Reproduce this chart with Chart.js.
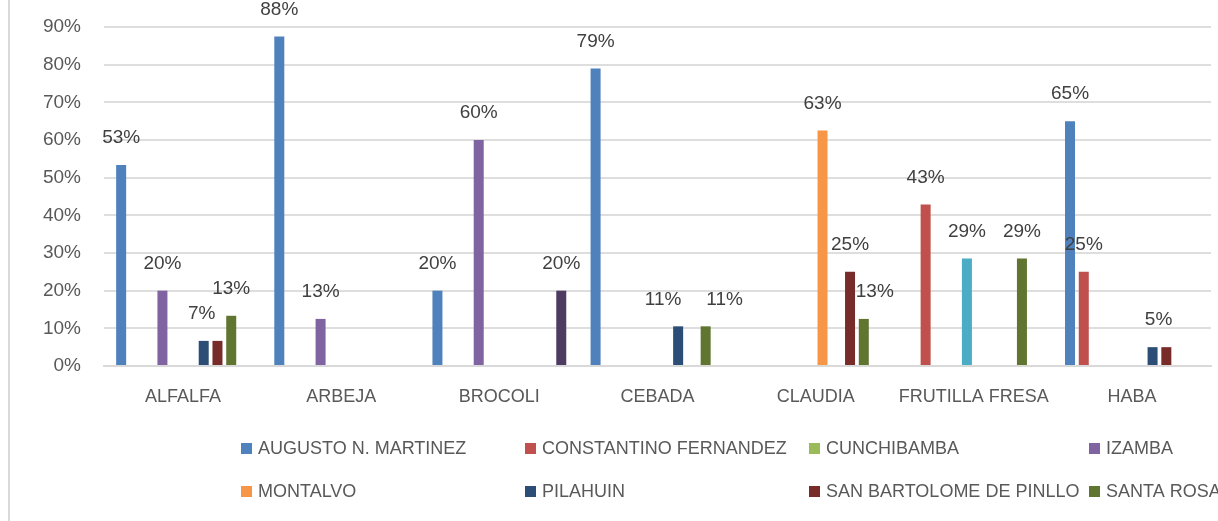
<!DOCTYPE html>
<html lang="es">
<head>
    <meta charset="UTF-8">
    <title>Cultivos por parroquia</title>
    <script src="https://cdn.jsdelivr.net/npm/chart.js"></script>
    <style>
        body {
            margin: 0;
            background: #ffffff;
        }
        #wrap {
            width: 1218px;
            height: 521px;
        }
    </style>
</head>
<body>

<div id="wrap"><canvas id="cultivosChart" width="1218" height="521"></canvas></div>

<script>
    // categorias (cultivos)
    const categories = ['ALFALFA', 'ARBEJA', 'BROCOLI', 'CEBADA', 'CLAUDIA', 'FRUTILLA FRESA', 'HABA'];

    // parroquias, en el orden de las series
    const seriesNames = [
        'AUGUSTO N. MARTINEZ', 'CONSTANTINO FERNANDEZ', 'CUNCHIBAMBA', 'IZAMBA', 'SERIE 5',
        'MONTALVO', 'PILAHUIN', 'SAN BARTOLOME DE PINLLO', 'SANTA ROSA', 'SERIE 10'
    ];

    // porcentajes por cultivo (null = sin dato)
    const augusto      = [53.33, 87.5, 20, 78.95, null, null, 65];
    const constantino  = [null, null, null, null, null, 42.86, 25];
    const cunchibamba  = [null, null, null, null, null, null, null];
    const izamba       = [20, 12.5, 60, null, null, null, null];
    const serie5       = [null, null, null, null, null, 28.57, null];
    const montalvo     = [null, null, null, null, 62.5, null, null];
    const pilahuin     = [6.67, null, null, 10.53, null, null, 5];
    const sanBartolome = [6.67, null, null, null, 25, null, 5];
    const santaRosa    = [13.33, null, null, 10.53, 12.5, 28.57, null];
    const serie10      = [null, null, 20, null, null, null, null];

    const seriesValues = [augusto, constantino, cunchibamba, izamba, serie5,
                          montalvo, pilahuin, sanBartolome, santaRosa, serie10];

    const yTicks = [0, 10, 20, 30, 40, 50, 60, 70, 80, 90];

    const colors = ['#4F81BD', '#C0504D', '#9BBB59', '#8064A2', '#4BACC6',
                    '#F79646', '#2C4D75', '#772C2A', '#5F7530', '#4D3B62'];

    // series que aparecen en la leyenda visible
    const legendShown = [0, 1, 2, 3, 5, 6, 7, 8];

    // etiquetas movidas a mano (dx) u ocultas (null), clave "serie:categoria"
    const labelTweaks = {
        '6:0': -2, '7:0': null,
        '6:3': -15, '8:3': 19,
        '8:4': 11,
        '6:6': 6, '7:6': null
    };

    const FONT = "'Liberation Sans', Arial, sans-serif";

    const valueLabels = {
        id: 'valueLabels',
        afterDatasetsDraw(chart) {
            const ctx = chart.ctx;
            ctx.save();
            ctx.font = '19px ' + FONT;
            ctx.fillStyle = '#404040';
            ctx.textAlign = 'center';
            ctx.textBaseline = 'middle';
            chart.data.datasets.forEach((ds, i) => {
                const meta = chart.getDatasetMeta(i);
                meta.data.forEach((bar, j) => {
                    const v = ds.data[j];
                    if (v == null) return;
                    const key = i + ':' + j;
                    let dx = 0;
                    if (key in labelTweaks) {
                        if (labelTweaks[key] === null) return;
                        dx = labelTweaks[key];
                    }
                    ctx.fillText(Math.round(v) + '%', bar.x + dx, bar.y - 27);
                });
            });
            ctx.restore();
        }
    };

    const gridLegend = {
        id: 'gridLegend',
        afterDraw(chart) {
            const ctx = chart.ctx;
            const cols = [241, 525, 809, 1089];
            const rows = [449, 492];
            ctx.save();
            // borde izquierdo del area del grafico
            ctx.strokeStyle = '#d9d9d9';
            ctx.lineWidth = 2;
            ctx.beginPath();
            ctx.moveTo(9, 0);
            ctx.lineTo(9, chart.height);
            ctx.stroke();

            ctx.font = '18px ' + FONT;
            ctx.textBaseline = 'middle';
            ctx.textAlign = 'left';
            let prevEnd = 0;
            legendShown.forEach((idx, n) => {
                const col = n % cols.length;
                const row = Math.floor(n / cols.length);
                if (col === 0) prevEnd = 0;
                const x = Math.max(cols[col], prevEnd + 2);
                const y = rows[row];
                ctx.fillStyle = colors[idx];
                ctx.fillRect(x, y - 6, 11, 11);
                ctx.fillStyle = '#595959';
                const name = chart.data.datasets[idx].label;
                ctx.fillText(name, x + 17, y);
                prevEnd = x + 17 + ctx.measureText(name).width;
            });
            ctx.restore();
        }
    };

    new Chart(document.getElementById('cultivosChart'), {
        type: 'bar',
        data: {
            labels: categories,
            datasets: seriesValues.map((vals, i) => ({
                label: seriesNames[i],
                data: vals,
                backgroundColor: colors[i],
                borderWidth: 0,
                categoryPercentage: 0.87,
                barPercentage: 0.727
            }))
        },
        options: {
            responsive: false,
            animation: false,
            devicePixelRatio: 1,
            layout: {
                padding: { top: 27, right: 7, bottom: 0, left: 0 }
            },
            plugins: {
                legend: { display: false },
                tooltip: { enabled: false }
            },
            scales: {
                x: {
                    grid: { display: false, drawTicks: false },
                    border: { display: true, color: '#d9d9d9', width: 2 },
                    ticks: {
                        color: '#595959',
                        font: { family: FONT, size: 18 },
                        padding: 20,
                        maxRotation: 0,
                        autoSkip: false
                    },
                    afterFit(scale) { scale.height = 155; }
                },
                y: {
                    min: 0,
                    max: 90,
                    afterBuildTicks(scale) {
                        scale.ticks = yTicks.map(v => ({ value: v }));
                    },
                    grid: {
                        color: '#dedede',
                        lineWidth: 2,
                        drawTicks: true,
                        tickLength: 20,
                        tickColor: 'rgba(0,0,0,0)'
                    },
                    border: { display: false },
                    ticks: {
                        color: '#595959',
                        font: { family: FONT, size: 19 },
                        padding: 3,
                        callback: v => v + '%'
                    },
                    afterFit(scale) { scale.width = 104; }
                }
            }
        },
        plugins: [valueLabels, gridLegend]
    });
</script>

</body>
</html>
